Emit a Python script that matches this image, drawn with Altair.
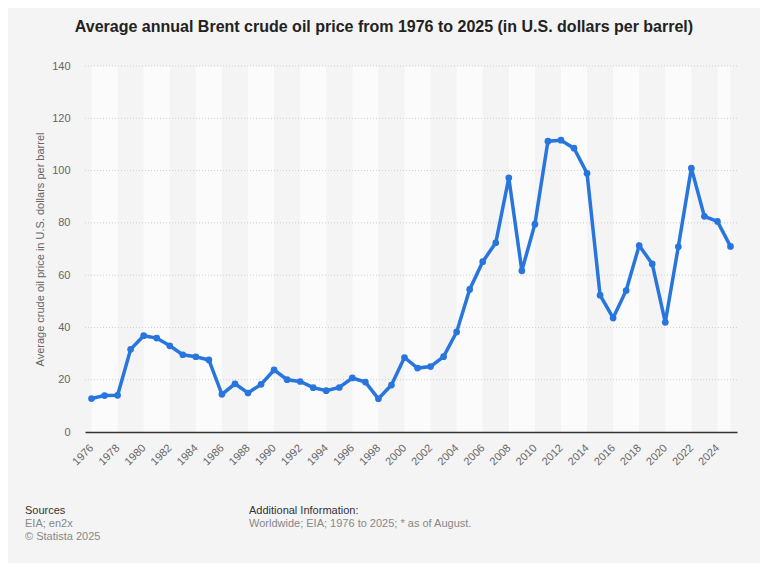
import altair as alt
import pandas as pd

years = list(range(1976, 2026))
prices = [12.80, 13.92, 14.02, 31.61, 36.83, 35.93, 32.97, 29.55, 28.78, 27.56,
          14.43, 18.44, 14.92, 18.23, 23.73, 20.00, 19.32, 16.97, 15.82, 17.02,
          20.67, 19.09, 12.72, 17.97, 28.50, 24.44, 25.02, 28.83, 38.27, 54.52,
          65.14, 72.39, 97.26, 61.67, 79.50, 111.26, 111.63, 108.56, 98.97, 52.32,
          43.64, 54.13, 71.34, 64.30, 41.96, 70.86, 100.93, 82.49, 80.53, 71.00]
tick_years = list(range(1976, 2025, 2))
y_ticks = [20, 40, 60, 80, 100, 120, 140]
band_starts = list(range(1976, 2025, 4))
band_ends = [min(s + 2, 2025) for s in band_starts]

title_text = "Average annual Brent crude oil price from 1976 to 2025 (in U.S. dollars per barrel)"
y_title = "Average crude oil price in U.S. dollars per barrel"

FONT = "Liberation Sans"
BLUE = "#2876dd"

df = pd.DataFrame({"year": years, "price": prices})
bands = pd.DataFrame({"start": band_starts, "end": band_ends})
grid = pd.DataFrame({"v": y_ticks})

xscale = alt.Scale(domain=[1975.5, 2025.5], nice=False, zero=False)
yscale = alt.Scale(domain=[0, 140], nice=False)

xaxis = alt.Axis(values=tick_years, format="d", labelAngle=-45, labelAlign="right",
                 labelBaseline="middle", labelPadding=14, ticks=False, tickSize=0,
                 grid=False, domain=True, domainColor="#333333", domainWidth=1.5,
                 labelColor="#666666", labelFontSize=11, labelFont=FONT, title=None,
                 labelOverlap=False, zindex=1)
yaxis = alt.Axis(values=[0] + y_ticks, ticks=False, tickSize=0, grid=False, domain=False,
                 labelColor="#666666", labelFontSize=11, labelFont=FONT, labelPadding=15,
                 title=y_title, titleColor="#666666", titleFontSize=11,
                 titleFontWeight="normal", titleFont=FONT, titlePadding=6)

band_layer = alt.Chart(bands).mark_rect(color="#fbfbfb").encode(
    x=alt.X("start:Q", scale=xscale, axis=xaxis),
    x2="end:Q",
    y=alt.value(0),
    y2=alt.value(366),
)

grid_layer = alt.Chart(grid).mark_rule(color="#cfcfcf", strokeDash=[1, 2], strokeWidth=1).encode(
    y=alt.Y("v:Q", scale=yscale, axis=yaxis),
    x=alt.value(0),
    x2=alt.value(652),
)

line_layer = alt.Chart(df).mark_line(
    color=BLUE, strokeWidth=3.5,
    point=alt.OverlayMarkDef(color=BLUE, filled=True, size=45, opacity=1),
).encode(
    x=alt.X("year:Q", scale=xscale, axis=xaxis),
    y=alt.Y("price:Q", scale=yscale, axis=yaxis),
)

def txt(s, x, y, size=11, color="#888888", weight="normal", align="left"):
    return alt.Chart(pd.DataFrame({"t": [s]})).mark_text(
        font=FONT, fontSize=size, color=color, fontWeight=weight, align=align, baseline="middle"
    ).encode(text="t:N", x=alt.value(x), y=alt.value(y))

title_layer = txt(title_text, 299, -39, size=16, color="#222222", weight="bold", align="center")
src1 = txt("Sources", -60, 445, color="#333333")
src2 = txt("EIA; en2x", -60, 458)
src3 = txt("© Statista 2025", -60, 471)
add1 = txt("Additional Information:", 164, 445, color="#333333")
add2 = txt("Worldwide; EIA; 1976 to 2025; * as of August.", 164, 458)

chart = alt.layer(
    band_layer, grid_layer, line_layer, title_layer, src1, src2, src3, add1, add2
).properties(
    width=652, height=366,
    autosize=alt.AutoSizeParams(type="none"),
    padding={"left": 77, "top": 58, "right": 23, "bottom": 131},
    background="#f4f4f4",
).configure_view(stroke=None)

chart.save("out.html", embed_options={"renderer": "svg", "actions": False})
